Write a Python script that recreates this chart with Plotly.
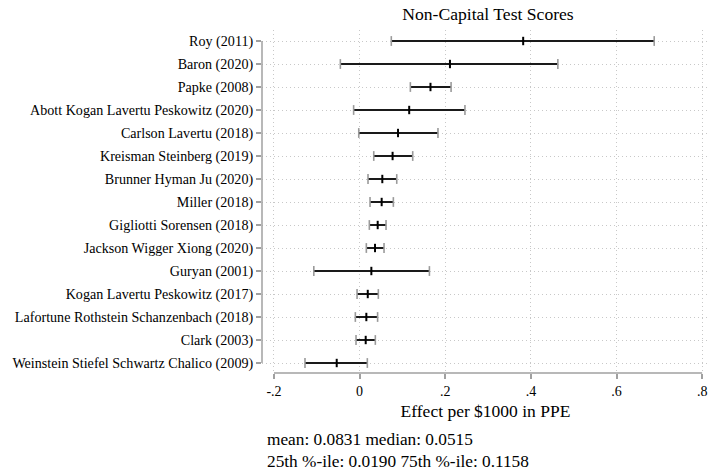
import plotly.graph_objects as go
import numpy as np

# Studies (top to bottom), point estimates and 95% CI bounds
studies = [
    "Roy (2011)",
    "Baron (2020)",
    "Papke (2008)",
    "Abott Kogan Lavertu Peskowitz (2020)",
    "Carlson Lavertu (2018)",
    "Kreisman Steinberg (2019)",
    "Brunner Hyman Ju (2020)",
    "Miller (2018)",
    "Gigliotti Sorensen (2018)",
    "Jackson Wigger Xiong (2020)",
    "Guryan (2001)",
    "Kogan Lavertu Peskowitz (2017)",
    "Lafortune Rothstein Schanzenbach (2018)",
    "Clark (2003)",
    "Weinstein Stiefel Schwartz Chalico (2009)",
]
estimate = [0.382, 0.211, 0.1655, 0.1158, 0.0897, 0.077, 0.053, 0.0515,
            0.0422, 0.036, 0.0274, 0.0190, 0.0157, 0.0142, -0.0535]
ci_low = [0.074, -0.045, 0.1185, -0.014, -0.002, 0.033, 0.0196, 0.0243,
          0.0227, 0.0157, -0.107, -0.006, -0.010, -0.0084, -0.1276]
ci_high = [0.688, 0.463, 0.2136, 0.246, 0.183, 0.124, 0.0867, 0.0788,
           0.0617, 0.057, 0.163, 0.0437, 0.042, 0.0367, 0.018]

x_ticks = [-0.2, 0, 0.2, 0.4, 0.6, 0.8]
x_tick_labels = ["-.2", "0", ".2", ".4", ".6", ".8"]

FONT = "Liberation Serif, Times New Roman, serif"
pos = list(range(1, len(studies) + 1))

# Summary statistics (Stata-style centiles)
vals = np.sort(np.array(estimate))
n = len(vals)


def centile(p):
    k = n * p / 100.0
    if k == int(k):
        i = int(k)
        return (vals[i - 1] + vals[i]) / 2
    return vals[int(np.floor(k))]


stat_mean = float(np.mean(vals))
stat_med = centile(50)
stat_p25 = centile(25)
stat_p75 = centile(75)

fig = go.Figure()

# CI lines
lx, ly = [], []
for p, lo, hi in zip(pos, ci_low, ci_high):
    lx += [lo, hi, None]
    ly += [p, p, None]
fig.add_trace(go.Scatter(x=lx, y=ly, mode="lines",
                         line=dict(color="#1a1a1a", width=2),
                         hoverinfo="skip", showlegend=False))

# CI caps
fig.add_trace(go.Scatter(x=ci_low + ci_high, y=pos + pos, mode="markers",
                         marker=dict(symbol="line-ns", size=7,
                                     line=dict(color="#9a9a9a", width=1.6)),
                         hoverinfo="skip", showlegend=False))

# Point estimates
fig.add_trace(go.Scatter(x=estimate, y=pos, mode="markers",
                         marker=dict(symbol="line-ns", size=6,
                                     line=dict(color="#000000", width=2)),
                         showlegend=False))

# Axis lines spanning only the tick ranges
fig.add_shape(type="line", xref="paper", yref="y", x0=0, x1=0, y0=1, y1=len(studies),
              line=dict(color="#a0a0a0", width=1.5))
fig.add_shape(type="line", xref="x", yref="paper", x0=x_ticks[0], x1=x_ticks[-1], y0=0, y1=0,
              line=dict(color="#a0a0a0", width=1.5))

# Summary note below the axis
fig.add_annotation(xref="paper", yref="paper", x=(265 - 262) / 447, y=-(450.5 - 373) / 343,
                   xanchor="left", yanchor="middle", align="left", showarrow=False,
                   text="mean: %.4f median: %.4f<br>25th %%-ile: %.4f 75th %%-ile: %.4f"
                        % (stat_mean, stat_med, stat_p25, stat_p75),
                   font=dict(family=FONT, size=17.3, color="#000"))

grid = dict(showgrid=True, gridcolor="#c8c8c8", griddash="1px,3px", gridwidth=1,
            zeroline=False, showline=False, ticks="outside", ticklen=5,
            tickcolor="#a0a0a0", tickwidth=1.5)

fig.update_layout(
    width=709, height=474,
    margin=dict(l=262, r=0, t=30, b=101),
    paper_bgcolor="white", plot_bgcolor="white",
    font=dict(family=FONT, size=14, color="#000"),
    title=dict(text="Non-Capital Test Scores", x=488 / 709, xanchor="center",
               y=1 - 14 / 474, yanchor="middle",
               font=dict(family=FONT, size=17.6, color="#000")),
    xaxis=dict(range=[-0.228, 0.816], tickvals=x_ticks, ticktext=x_tick_labels,
               tickfont=dict(family=FONT, size=14),
               title=dict(text="Effect per $1000 in PPE", standoff=6,
                          font=dict(family=FONT, size=17.5)),
               **grid),
    yaxis=dict(range=[15.4348, 0.5217], tickvals=pos, ticktext=studies,
               tickfont=dict(family=FONT, size=14.1),
               **grid),
)

fig.write_html("out.html")
